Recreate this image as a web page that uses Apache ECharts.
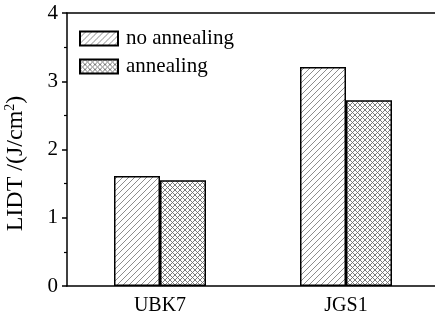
<!DOCTYPE html>
<html>
<head>
<meta charset="utf-8">
<script src="https://cdn.jsdelivr.net/npm/echarts@6/dist/echarts.min.js"></script>
<style>
  html, body { margin: 0; padding: 0; background: #fff; overflow: hidden; }
  /* plot frame runs on past the right edge of the view */
  #chart { width: 442px; height: 321px; }
</style>
</head>
<body>
<div id="chart"></div>
<script>
// Laser-induced damage threshold for two glass substrates
const categories = ['UBK7', 'JGS1'];
const noAnnealing = [1.61, 3.21];
const annealing = [1.55, 2.72];
const yTicks = [0, 1, 2, 3, 4];

const FONT = '"Liberation Serif", "Times New Roman", serif';

// Hatch fills drawn on small tiles, repeated across the bars
function diagonalTile() {
  const s = 6;
  const c = document.createElement('canvas');
  c.width = s; c.height = s;
  const g = c.getContext('2d');
  g.fillStyle = '#fff';
  g.fillRect(0, 0, s, s);
  g.strokeStyle = '#808080';
  g.lineWidth = 0.9;
  g.beginPath();
  g.moveTo(-1, s + 1); g.lineTo(s + 1, -1);
  g.moveTo(-1, 1); g.lineTo(1, -1);
  g.moveTo(s - 1, s + 1); g.lineTo(s + 1, s - 1);
  g.stroke();
  return c;
}
function crossTile() {
  const s = 5;
  const c = document.createElement('canvas');
  c.width = s; c.height = s;
  const g = c.getContext('2d');
  g.fillStyle = '#fff';
  g.fillRect(0, 0, s, s);
  g.strokeStyle = '#6e6e6e';
  g.lineWidth = 0.9;
  g.beginPath();
  g.moveTo(-1, s + 1); g.lineTo(s + 1, -1);
  g.moveTo(-1, -1); g.lineTo(s + 1, s + 1);
  g.stroke();
  return c;
}

const chart = echarts.init(document.getElementById('chart'), null, { renderer: 'canvas' });

chart.setOption({
  animation: false,
  backgroundColor: '#fff',
  textStyle: { fontFamily: FONT, color: '#000' },
  grid: {
    left: 67, top: 13, bottom: 35, width: 372,
    outerBoundsMode: 'none',
    containLabel: false,
    show: false
  },
  legend: {
    left: 79, top: 28,
    padding: 0,
    orient: 'vertical',
    icon: 'rect',
    itemWidth: 38, itemHeight: 14, itemGap: 7,
    textStyle: { fontFamily: FONT, fontSize: 21, color: '#000', padding: [0, 0, 0, 3] },
    data: ['no annealing', 'annealing']
  },
  xAxis: [
    {
      type: 'category',
      data: categories,
      axisLine: { lineStyle: { color: '#000', width: 1.5 } },
      axisTick: { alignWithLabel: true, length: 5, lineStyle: { color: '#000', width: 1.5 } },
      axisLabel: { fontFamily: FONT, fontSize: 20, color: '#000', margin: 10 },
      splitLine: { show: false }
    },
    {
      // frame line along the top of the plot
      type: 'category',
      data: categories,
      position: 'top',
      axisLine: { show: true, lineStyle: { color: '#000', width: 1.5 } },
      axisTick: { show: false },
      axisLabel: { show: false },
      splitLine: { show: false }
    }
  ],
  yAxis: {
    type: 'value',
    min: yTicks[0], max: yTicks[yTicks.length - 1], interval: 1,
    name: '{t|LIDT /(J/cm}{sup|2}{t|)}',
    nameLocation: 'middle',
    nameGap: 38,
    nameTextStyle: {
      padding: [0, 28, 0, 0],
      rich: {
        t: { fontFamily: FONT, fontSize: 24, color: '#000' },
        sup: { fontFamily: FONT, fontSize: 14, color: '#000', padding: [0, 0, 12, 0] }
      }
    },
    axisLine: { show: true, lineStyle: { color: '#000', width: 1.5 } },
    axisTick: { show: true, length: 5, lineStyle: { color: '#000', width: 1.5 } },
    minorTick: { show: true, splitNumber: 2, length: 3, lineStyle: { color: '#000', width: 1.2 } },
    axisLabel: { fontFamily: FONT, fontSize: 21, color: '#000', margin: 9 },
    splitLine: { show: false }
  },
  series: [
    {
      name: 'no annealing',
      type: 'bar',
      data: noAnnealing,
      barWidth: 46,
      barGap: '0%',
      itemStyle: {
        color: { image: diagonalTile(), repeat: 'repeat' },
        borderColor: '#000', borderWidth: 1.5
      }
    },
    {
      name: 'annealing',
      type: 'bar',
      data: annealing,
      barWidth: 46,
      barGap: '0%',
      itemStyle: {
        color: { image: crossTile(), repeat: 'repeat' },
        borderColor: '#000', borderWidth: 1.5
      }
    }
  ]
});
</script>
</body>
</html>
